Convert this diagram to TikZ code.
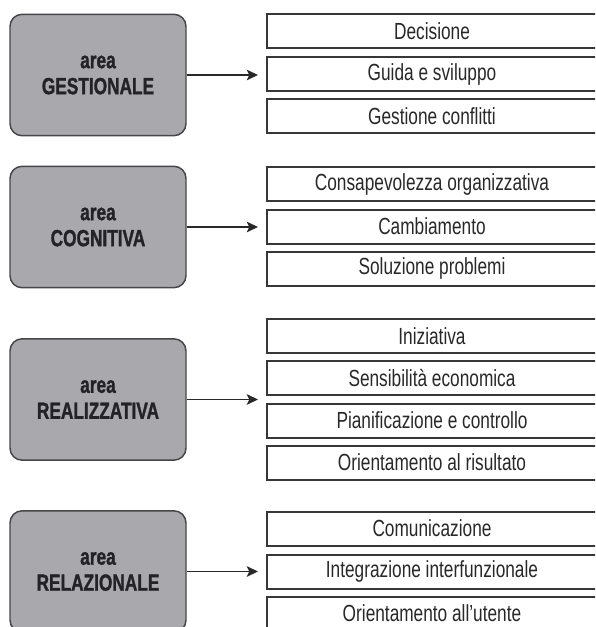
\documentclass[tikz,border=0pt]{standalone}
\usepackage{fontspec}
\setmainfont{Liberation Sans}[FakeStretch=0.74,BoldFeatures={FakeBold=1.2}]
\usetikzlibrary{arrows.meta}

\tikzset{every picture/.style={line width=0.75pt}}
\tikzset{
  areabox/.style={draw={rgb, 255:red, 70; green, 70; blue, 72 }, fill={rgb, 255:red, 168; green, 168; blue, 173 }, rounded corners=9pt, line width=1.1pt, minimum width=132pt, minimum height=91pt, align=center, inner sep=0pt, text={rgb, 255:red, 35; green, 35; blue, 38 }, font=\fontsize{17.5}{19.5}\selectfont\bfseries},
  itembox/.style={draw={rgb, 255:red, 55; green, 55; blue, 55 }, line width=1.5pt, minimum width=247.5pt, minimum height=25.5pt, inner sep=0pt, text={rgb, 255:red, 40; green, 40; blue, 40 }, font=\fontsize{17.5}{19}\selectfont},
  arrowline/.style={draw={rgb, 255:red, 40; green, 40; blue, 40 }, line width=1.2pt, -{Stealth[length=8.5pt,width=8pt,inset=2pt]}}
}

\begin{document}
\begin{tikzpicture}[x=0.75pt,y=0.75pt,yscale=-1,xscale=1]
        \useasboundingbox (0,0) rectangle (595,627);
        \clip (0,0) rectangle (595,627);
        %set tip of the arrows
        \coordinate (tip) at (258,0);

        % Area boxes
        \node [areabox] (gest) at (98,75) {area\\GESTIONALE};
        \node [areabox] (cogn) at (98,227) {area\\COGNITIVA};
        \node [areabox] (real) at (98,399.5) {area\\REALIZZATIVA};
        \node [areabox] (rela) at (98,571.5) {area\\RELAZIONALE};

        % Item boxes
        \node [itembox] (gest-1) at (432,31.5) {Decisione};
        \node [itembox] (gest-2) at (432,74) {Guida e sviluppo};
        \node [itembox] (gest-3) at (432,116.5) {Gestione conflitti};
        % Item boxes
        \node [itembox] (cogn-1) at (432,184.5) {Consapevolezza organizzativa};
        \node [itembox] (cogn-2) at (432,226.5) {Cambiamento};
        \node [itembox] (cogn-3) at (432,268.5) {Soluzione problemi};
        % Item boxes
        \node [itembox] (real-1) at (432,336) {Iniziativa};
        \node [itembox] (real-2) at (432,378) {Sensibilità economica};
        \node [itembox] (real-3) at (432,420.5) {Pianificazione e controllo};
        \node [itembox] (real-4) at (432,462.5) {Orientamento al risultato};
        % Item boxes
        \node [itembox] (rela-1) at (432,528.5) {Comunicazione};
        \node [itembox] (rela-2) at (432,571.5) {Integrazione interfunzionale};
        \node [itembox] (rela-3) at (432,613.5) {Orientamento all'utente};

        %Straight Lines
        \draw [arrowline] (gest.east) -- (gest.east -| tip);
        \draw [arrowline] (cogn.east) -- (cogn.east -| tip);
        \draw [arrowline] (real.east) -- (real.east -| tip);
        \draw [arrowline] (rela.east) -- (rela.east -| tip);
\end{tikzpicture}
\end{document}
